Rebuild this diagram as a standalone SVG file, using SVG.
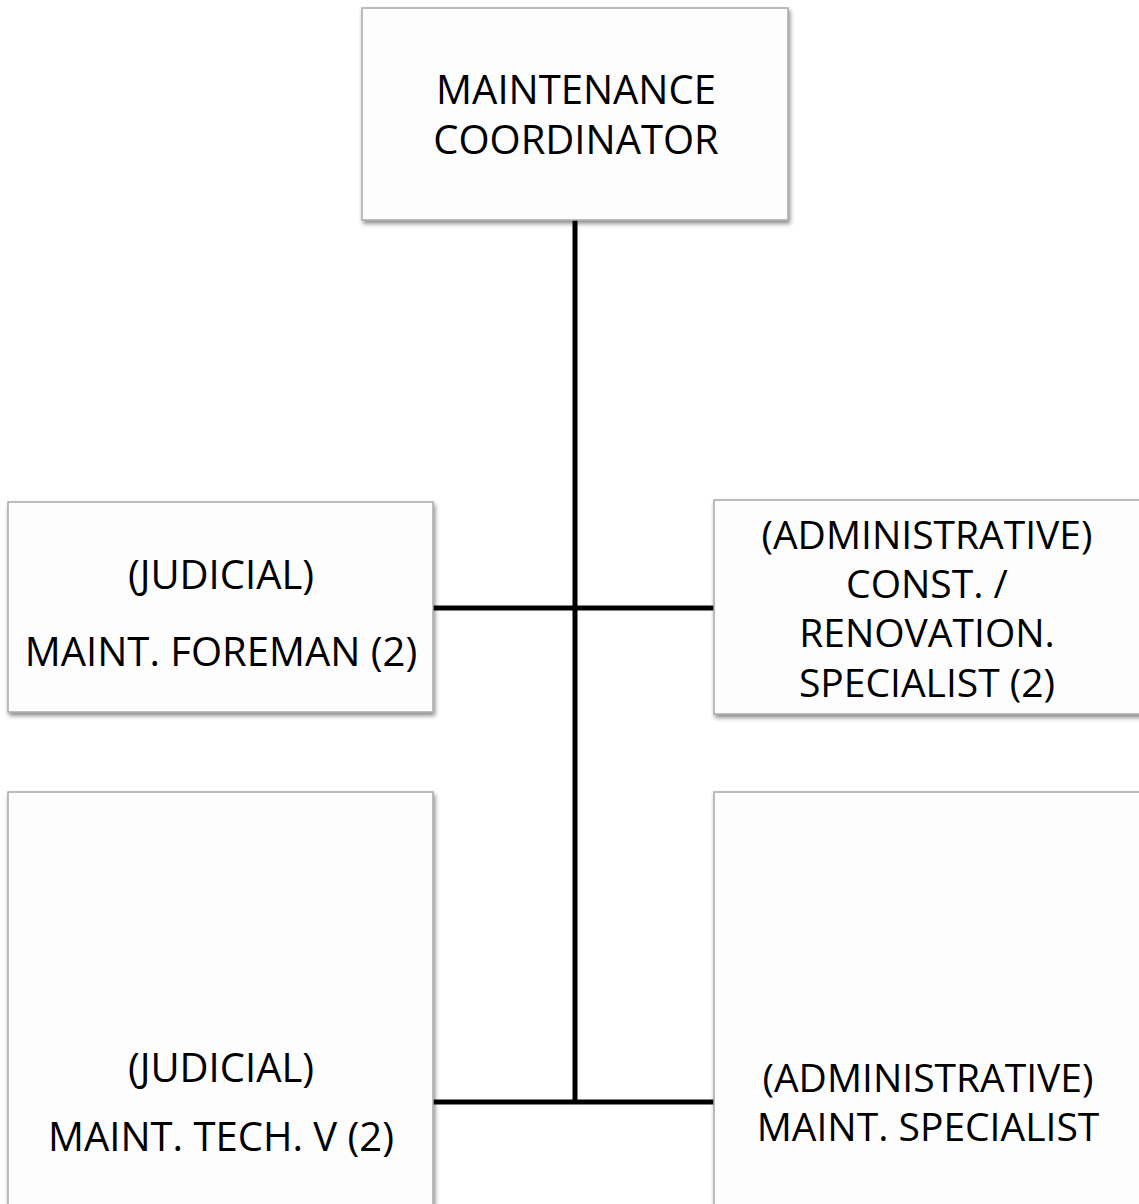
<svg xmlns="http://www.w3.org/2000/svg" width="1139" height="1204" viewBox="0 0 1139 1204">
  <style>
    .box { fill: #fdfdfd; stroke: #a8a8a8; stroke-width: 1.5; filter: url(#shadow); }
    .lbl { font-family: "Open Sans", "Noto Sans", sans-serif; font-size: 40px; fill: #000; text-anchor: middle; }
    .tight { font-size: 39px; }
    .wire { stroke: #000; stroke-width: 5; fill: none; }
  </style>
  <defs>
    <filter id="shadow" x="-5%" y="-5%" width="115%" height="120%">
      <feDropShadow dx="1.5" dy="3" stdDeviation="2" flood-color="#000" flood-opacity="0.45"/>
    </filter>
  </defs>
  <rect width="1139" height="1204" fill="#fff"/>

  <g id="connectors">
    <line class="wire" x1="575" y1="220" x2="575" y2="1104"/>
    <line class="wire" x1="433" y1="608" x2="714" y2="608"/>
    <line class="wire" x1="433" y1="1102" x2="714" y2="1102"/>
  </g>

  <g id="maintenance-coordinator">
    <rect class="box" x="362" y="8" width="426" height="212"/>
    <text class="lbl" x="576" y="104">MAINTENANCE</text>
    <text class="lbl" x="576" y="154">COORDINATOR</text>
  </g>

  <g id="maint-foreman">
    <rect class="box" x="8" y="502" width="425" height="210"/>
    <text class="lbl" x="221" y="589">(JUDICIAL)</text>
    <text class="lbl" x="221" y="666">MAINT. FOREMAN (2)</text>
  </g>

  <g id="renovation-specialist">
    <rect class="box" x="714" y="500" width="440" height="214"/>
    <text class="lbl tight" x="927" y="549">(ADMINISTRATIVE)</text>
    <text class="lbl tight" x="927" y="598">CONST. /</text>
    <text class="lbl tight" x="927" y="647">RENOVATION.</text>
    <text class="lbl tight" x="927" y="697">SPECIALIST (2)</text>
  </g>

  <g id="maint-tech">
    <rect class="box" x="8" y="792" width="425" height="450"/>
    <text class="lbl" x="221" y="1082">(JUDICIAL)</text>
    <text class="lbl" x="221" y="1151">MAINT. TECH. V (2)</text>
  </g>

  <g id="maint-specialist">
    <rect class="box" x="714" y="792" width="440" height="450"/>
    <text class="lbl tight" x="928" y="1092">(ADMINISTRATIVE)</text>
    <text class="lbl tight" x="928" y="1141">MAINT. SPECIALIST</text>
  </g>
</svg>
